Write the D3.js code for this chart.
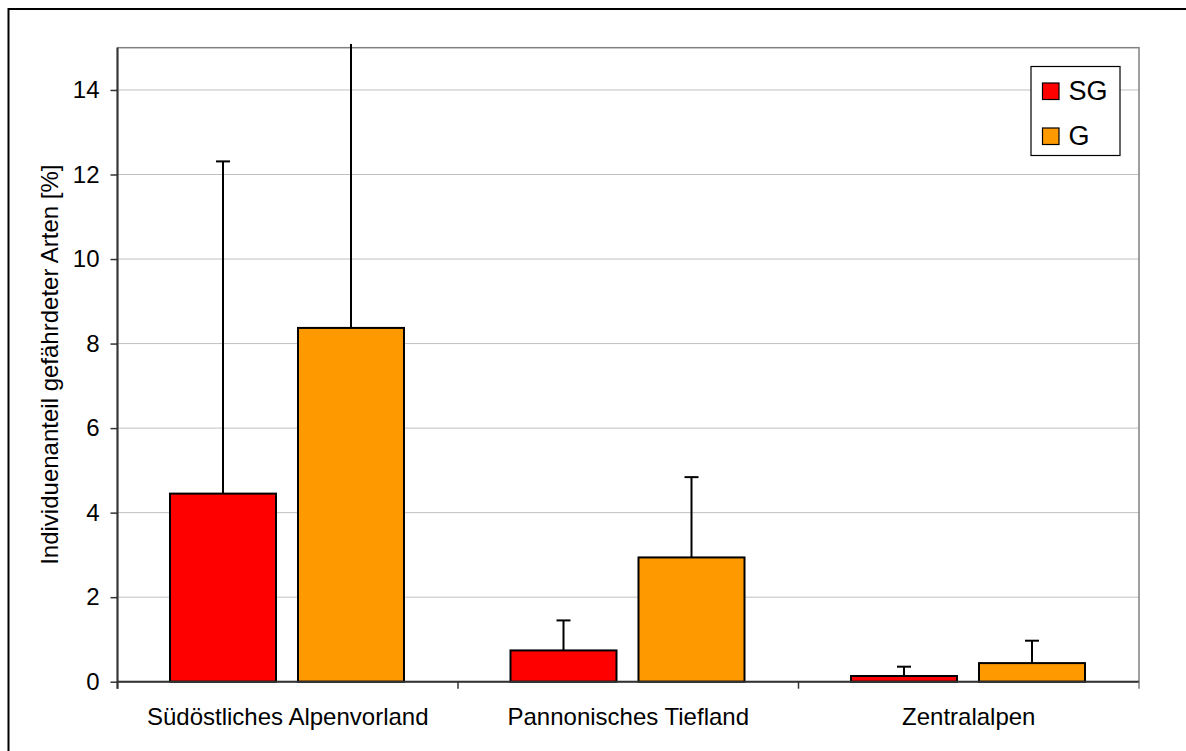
<!DOCTYPE html>
<html><head><meta charset="utf-8">
<script src="https://cdn.jsdelivr.net/npm/d3@7"></script>
<style>body{margin:0;background:#fff}svg{display:block}text{font-family:Arial,"Liberation Sans",sans-serif}</style>
</head><body><svg id="c" width="1186" height="751"></svg>
<script>
const categories = ["Südöstliches Alpenvorland", "Pannonisches Tiefland", "Zentralalpen"];
const seriesNames = ["SG", "G"];
const seriesColors = ["#ff0000", "#ff9900"];
const sgValues = [4.45, 0.74, 0.135];
const sgErrors = [7.86, 0.71, 0.22];
const gValues = [8.37, 2.94, 0.44];
const gErrors = [7.5, 1.9, 0.53];
const yTicks = [0, 2, 4, 6, 8, 10, 12, 14];

const FS = 24;
const svg = d3.select("#c");
const L = 117.5, R = 1139, T = 47.7, B = 681.7;
const y = d3.scaleLinear().domain([0, 15]).range([B, T]);
const x0 = d3.scaleBand().domain(categories).range([L, R]).paddingInner(0).paddingOuter(0);
const x1 = d3.scaleBand().domain(seriesNames).range([52.5, 52.5 + 234]).paddingInner(22 / 128).paddingOuter(0);

// outer frame (top/left visible)
svg.append("path").attr("d", "M8.5,751 L8.5,9 L1186,9").attr("fill", "none").attr("stroke", "#000").attr("stroke-width", 2);

const g = svg.append("g");
// gridlines
g.selectAll("line.grid").data(yTicks.filter(d => d > 0)).join("line")
  .attr("x1", L).attr("x2", R).attr("y1", d => y(d)).attr("y2", d => y(d))
  .attr("stroke", "#c0c0c0").attr("stroke-width", 1);
// plot border
g.append("rect").attr("x", L).attr("y", T).attr("width", R - L).attr("height", B - T)
  .attr("fill", "none").attr("stroke", "#808080").attr("stroke-width", 1.5);

const data = [];
categories.forEach((c, i) => {
  data.push({cat: c, s: "SG", v: sgValues[i], e: sgErrors[i], col: seriesColors[0]});
  data.push({cat: c, s: "G", v: gValues[i], e: gErrors[i], col: seriesColors[1]});
});

const bars = g.append("g");
bars.selectAll("rect.bar").data(data).join("rect")
  .attr("x", d => x0(d.cat) + x1(d.s)).attr("width", x1.bandwidth())
  .attr("y", d => y(d.v)).attr("height", d => B - y(d.v))
  .attr("fill", d => d.col).attr("stroke", "#000").attr("stroke-width", 2);
// error bars (clipped slightly above plot top when exceeding the axis)
bars.selectAll("line.err").data(data).join("line")
  .attr("x1", d => x0(d.cat) + x1(d.s) + x1.bandwidth() / 2).attr("x2", d => x0(d.cat) + x1(d.s) + x1.bandwidth() / 2)
  .attr("y1", d => y(d.v)).attr("y2", d => Math.max(y(d.v + d.e), 44))
  .attr("stroke", "#000").attr("stroke-width", 2);
bars.selectAll("line.cap").data(data.filter(d => d.v + d.e <= 15)).join("line")
  .attr("x1", d => x0(d.cat) + x1(d.s) + x1.bandwidth() / 2 - 7).attr("x2", d => x0(d.cat) + x1(d.s) + x1.bandwidth() / 2 + 7)
  .attr("y1", d => y(d.v + d.e)).attr("y2", d => y(d.v + d.e))
  .attr("stroke", "#000").attr("stroke-width", 2);

// y axis
const ya = svg.append("g").attr("transform", `translate(${L},0)`)
  .call(d3.axisLeft(y).tickValues(yTicks).tickSize(7).tickPadding(11).tickFormat(d3.format("d")));
ya.select(".domain").attr("stroke", "#333").attr("stroke-width", 2).attr("d", `M-0,${B + 7}V${T}`);
ya.selectAll(".tick line").attr("stroke", "#333").attr("stroke-width", 1.5);
ya.selectAll(".tick text").attr("font-size", FS).attr("fill", "#000").attr("font-family", "Arial, 'Liberation Sans', sans-serif");

// x axis
const xa = svg.append("g").attr("transform", `translate(0,${B})`)
  .call(d3.axisBottom(x0).tickSize(0).tickPadding(26));
xa.select(".domain").attr("stroke", "#333").attr("stroke-width", 2).attr("d", `M${L},0H${R}`);
xa.selectAll(".tick text").attr("font-size", FS).attr("fill", "#000").attr("font-family", "Arial, 'Liberation Sans', sans-serif");
const bounds = [0, 1, 2, 3].map(i => L + i * x0.step());
svg.selectAll("line.xt").data(bounds).join("line")
  .attr("x1", d => d).attr("x2", d => d).attr("y1", B).attr("y2", B + 7)
  .attr("stroke", d => d === R ? "#808080" : "#333").attr("stroke-width", 1.5);

// y title
svg.append("text").attr("transform", `translate(58,${(T + B) / 2}) rotate(-90)`)
  .attr("text-anchor", "middle").attr("font-size", FS).text("Individuenanteil gefährdeter Arten [%]");

// legend
const lg = svg.append("g");
lg.append("rect").attr("x", 1031).attr("y", 66.5).attr("width", 89).attr("height", 89)
  .attr("fill", "#fff").attr("stroke", "#000").attr("stroke-width", 1.2);
lg.selectAll("rect.sw").data(seriesNames).join("rect")
  .attr("x", 1042.5).attr("y", (d, i) => 83 + i * 45).attr("width", 16.5).attr("height", 16.5)
  .attr("fill", (d, i) => seriesColors[i]).attr("stroke", "#000").attr("stroke-width", 1.2);
lg.selectAll("text").data(seriesNames).join("text")
  .attr("x", 1068.5).attr("y", (d, i) => 100 + i * 44.5).attr("font-size", 27).text(d => d);
</script></body></html>
